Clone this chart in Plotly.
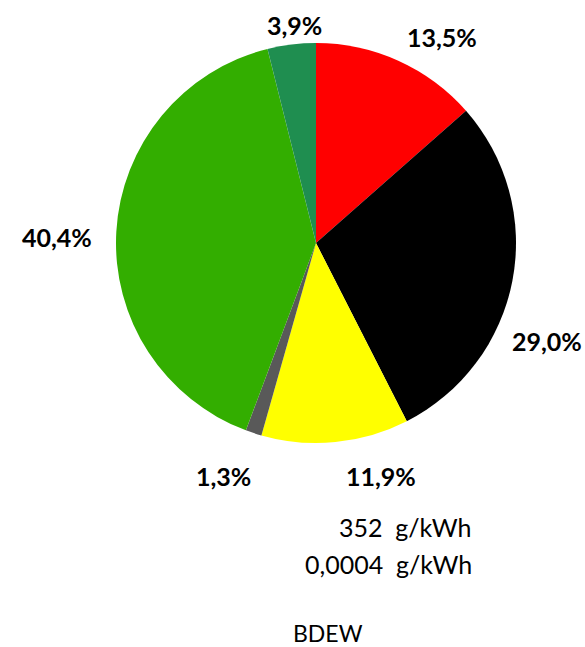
import plotly.graph_objects as go

labels = ["Rot", "Schwarz", "Gelb", "Grau", "Grün", "Dunkelgrün"]
values = [13.5, 29.0, 11.9, 1.3, 40.4, 3.9]
text_labels = ["13,5%", "29,0%", "11,9%", "1,3%", "40,4%", "3,9%"]
colors = ["#FF0000", "#000000", "#FFFF00", "#595959", "#33AE00", "#1F8E50"]
notes = ["352  g/kWh", "0,0004  g/kWh"]
source = "BDEW"

W, H = 585, 647
cx, cy, R = 316, 243, 200
FONT = "Lato, Carlito, Calibri, sans-serif"

# label centres (pixels) as placed in the reference layout
label_pos = [(442, 37), (547, 341), (381, 476), (223, 476), (57, 237), (294, 25)]

fig = go.Figure()
fig.add_trace(go.Pie(
    labels=labels, values=values, sort=False, direction="clockwise",
    rotation=0, marker=dict(colors=colors, line=dict(width=0)),
    textinfo="none", hoverinfo="label+percent", showlegend=False,
    domain=dict(x=[(cx - R) / W, (cx + R) / W], y=[1 - (cy + R) / H, 1 - (cy - R) / H]),
))

annotations = []
for t, (px, py) in zip(text_labels, label_pos):
    annotations.append(dict(x=px / W, y=1 - py / H, xref="paper", yref="paper",
                            xanchor="center", yanchor="middle",
                            text="<b>%s</b>" % t, showarrow=False,
                            font=dict(family=FONT, size=25, color="black")))

for i, n in enumerate(notes):
    annotations.append(dict(x=474 / W, y=1 - (527 + 37 * i) / H, xref="paper", yref="paper",
                            text=n, showarrow=False, xanchor="right", yanchor="middle",
                            font=dict(family=FONT, size=25, color="black")))
annotations.append(dict(x=328 / W, y=1 - 633 / H, xref="paper", yref="paper",
                        text=source, showarrow=False, xanchor="center", yanchor="middle",
                        borderpad=0,
                        font=dict(family=FONT, size=23, color="black")))

fig.update_layout(width=W, height=H, margin=dict(l=0, r=0, t=0, b=0),
                  paper_bgcolor="white", plot_bgcolor="white",
                  annotations=annotations)
fig.write_html("out.html", config={"displayModeBar": False},
               post_script="document.body.style.margin='0';")
